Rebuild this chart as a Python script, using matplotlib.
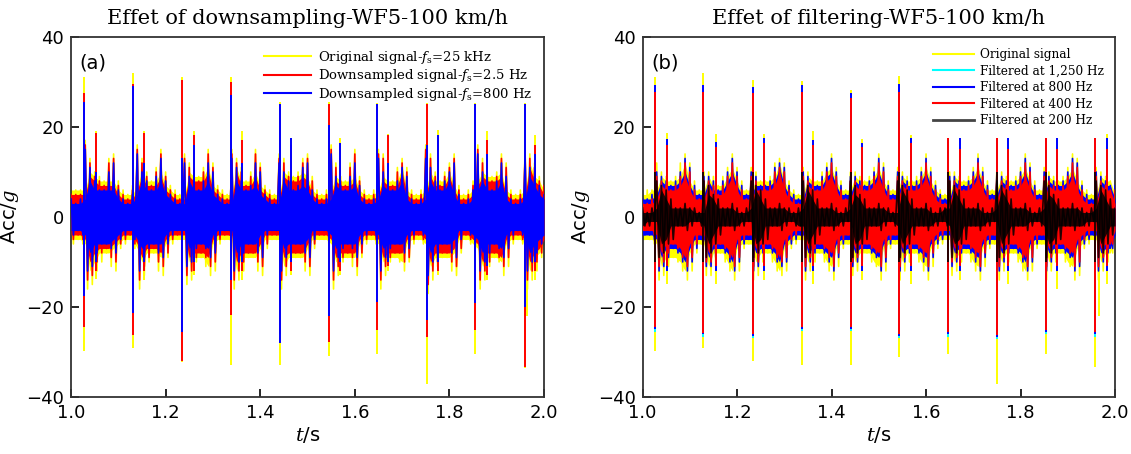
"""
Acceleration signal: effect of downsampling and filtering (WF5, 100 km/h)
"""
import numpy as np
import matplotlib
matplotlib.use('Agg')
import matplotlib.pyplot as plt
from matplotlib.lines import Line2D

nan = np.nan

# envelope of the signal, every 10 ms (upper / lower peak)
t_start = 1.0
t_step = 0.01

# ---- panel (a): downsampling ----
a_orig_hi = [6, 6, 6, 17, 13, 10, 9, 8, 13, 14,
             8, 6, 5, 7, 16, 13, 10, 8, 11, 15,
             10, 7, 6, 5, 14, 12, 10, 9, 11, 15,
             12, 7, 6, 5, 15, 13, 11, 8, 10, 15,
             12, 7, 6, 5, 14, 13, 10, 9, 10, 13,
             14, 9, 6, 5, 6, 16, 12, 9, 8, 12,
             15, 9, 6, 5, 6, 15, 14, 9, 8, 11,
             13, 11, 6, 5, 6, 16, 14, 10, 8, 10,
             12, 14, 7, 5, 6, 8, 16, 13, 10, 9,
             10, 14, 12, 6, 5, 6, 15, 14, 12, 9, 8]
a_orig_lo = [-6, -5, -6, -16, -15, -12, -10, -8, -11, -12,
             -7, -6, -5, -7, -16, -13, -10, -8, -12, -13,
             -9, -6, -5, -5, -15, -14, -10, -9, -11, -13,
             -12, -6, -5, -5, -16, -14, -12, -9, -9, -12,
             -13, -7, -5, -5, -16, -13, -11, -9, -9, -12,
             -13, -7, -5, -5, -6, -16, -13, -10, -9, -11,
             -13, -9, -6, -5, -6, -16, -13, -10, -9, -10,
             -12, -10, -6, -5, -6, -17, -14, -11, -9, -9,
             -12, -13, -8, -5, -6, -7, -16, -14, -11, -9,
             -10, -13, -11, -6, -5, -6, -16, -14, -12, -9, -8]
a_ds25_hi = [5, 5, 5, 16, 12, 9, 8, 7, 12, 13,
             7, 5, 4, 6, 15, 12, 9, 7, 10, 14,
             9, 6, 5, 4, 13, 11, 9, 8, 10, 14,
             11, 6, 5, 4, 14, 12, 10, 7, 9, 14,
             11, 6, 5, 4, 13, 12, 9, 8, 9, 12,
             13, 8, 5, 4, 5, 15, 11, 8, 7, 11,
             14, 8, 5, 4, 5, 14, 13, 8, 7, 10,
             12, 10, 5, 4, 5, 15, 13, 9, 7, 9,
             11, 13, 6, 4, 5, 7, 15, 12, 9, 8,
             9, 13, 11, 5, 4, 5, 14, 13, 11, 8, 7]
a_ds25_lo = [-5, -4, -5, -14, -13, -10, -8, -7, -9, -10,
             -6, -5, -4, -6, -14, -11, -9, -7, -10, -11,
             -8, -5, -4, -4, -13, -12, -9, -8, -9, -11,
             -10, -5, -4, -4, -14, -12, -10, -8, -8, -10,
             -11, -6, -4, -4, -14, -11, -9, -8, -8, -10,
             -11, -6, -4, -4, -5, -14, -11, -9, -8, -9,
             -11, -8, -5, -4, -5, -14, -11, -9, -8, -8,
             -10, -9, -5, -4, -5, -15, -12, -10, -8, -8,
             -10, -11, -7, -4, -5, -6, -14, -12, -10, -8,
             -9, -11, -9, -5, -4, -5, -14, -12, -10, -8, -7]
a_ds800_hi = [4, 3, 4, 15, 11, 8, 6, 6, 10, 12,
              6, 4, 3, 5, 14, 10, 8, 6, 9, 13,
              8, 5, 4, 3, 12, 9, 8, 6, 8, 12,
              10, 5, 4, 3, 13, 11, 8, 6, 7, 12,
              10, 5, 4, 3, 12, 10, 8, 6, 7, 11,
              12, 6, 4, 3, 4, 14, 9, 7, 6, 9,
              12, 7, 4, 3, 4, 13, 10, 7, 6, 8,
              11, 9, 4, 3, 4, 13, 11, 8, 6, 8,
              10, 12, 5, 3, 4, 6, 14, 10, 8, 6,
              8, 12, 9, 4, 3, 4, 13, 11, 9, 7, 5]
a_ds800_lo = [-4, -3, -4, -12, -11, -8, -6, -6, -7, -8,
              -5, -4, -3, -5, -12, -9, -7, -6, -8, -9,
              -6, -4, -3, -3, -11, -10, -7, -6, -7, -9,
              -8, -4, -3, -3, -12, -10, -8, -6, -6, -8,
              -9, -4, -3, -3, -12, -9, -7, -6, -6, -8,
              -9, -5, -3, -3, -4, -12, -9, -7, -6, -7,
              -9, -6, -4, -3, -4, -12, -9, -7, -6, -6,
              -8, -7, -4, -3, -4, -13, -10, -8, -6, -6,
              -8, -9, -5, -3, -4, -5, -12, -10, -8, -6,
              -7, -9, -7, -4, -3, -4, -12, -10, -8, -6, -5]

# single-sample impact peaks (wheel flat hits) in panel (a)
a_spike_t = [1.028, 1.052, 1.131, 1.155, 1.235, 1.259, 1.338, 1.362, 1.442, 1.465,
             1.545, 1.569, 1.647, 1.671, 1.752, 1.775, 1.855, 1.879, 1.959, 1.965, 1.982]
a_orig_sp_hi = [31.2, 19.0, 32.1, 19.0, 31.0, 19.0, 31.0, 19.0, 25.5, 17.5,
                25.5, 17.5, 25.3, 18.4, 25.3, 19.4, 25.3, 19.0, 25.3, nan, 18.2]
a_orig_sp_lo = [-29.7, -13.8, -29.2, -14.0, -32.3, -13.0, -33.0, -14.0, -33.0, -13.0,
                -31.0, -13.0, -30.4, -12.0, -37.1, -13.0, -30.4, -14.0, -33.6, -22.1, -14.0]
a_ds25_sp_hi = [27.5, 18.7, 29.5, 18.6, 30.4, 18.3, 30.1, 17.0, 25.0, 16.0,
                25.0, 16.4, 25.0, 18.2, 25.0, 17.0, 25.0, 17.0, 25.0, nan, 16.0]
a_ds25_sp_lo = [-24.4, -12.0, -26.2, -12.0, -32.0, -12.0, -21.8, -12.0, -26.0, -12.0,
                -27.7, -12.0, -25.1, -11.0, -26.6, -12.0, -25.1, -13.0, -33.3, nan, -12.0]
a_ds800_sp_hi = [25.6, 10.0, 29.0, 12.0, 13.0, 16.0, 27.0, 12.0, 25.0, 17.5,
                 20.4, 16.4, 25.0, 12.0, 16.0, 18.2, 25.0, 14.0, 25.0, nan, 14.0]
a_ds800_sp_lo = [-17.6, -10.0, -21.4, -10.0, -25.5, -10.0, -14.0, -10.0, -27.9, -10.0,
                 -22.1, -10.0, -18.8, -10.0, -22.9, -10.0, -19.2, -11.0, -19.9, nan, -10.0]

# ---- panel (b): filtering ----
b_orig_hi = [5, 6, 6, 12, 10, 9, 8, 9, 12, 14,
             12, 8, 6, 10, 10, 9, 7, 9, 11, 14,
             11, 8, 6, 11, 10, 8, 8, 9, 12, 13,
             12, 8, 6, 5, 11, 10, 9, 8, 10, 12,
             14, 11, 8, 6, 10, 10, 9, 8, 9, 11,
             14, 12, 8, 6, 11, 10, 9, 8, 9, 11,
             14, 11, 8, 6, 5, 10, 10, 9, 8, 9,
             11, 14, 11, 8, 6, 11, 10, 9, 8, 9,
             11, 14, 12, 8, 6, 11, 10, 9, 8, 9,
             11, 14, 13, 8, 6, 5, 11, 10, 9, 8, 8]
b_orig_lo = [-5, -5, -6, -14, -13, -11, -9, -10, -12, -14,
             -12, -8, -6, -13, -13, -11, -8, -10, -12, -14,
             -12, -7, -6, -14, -13, -10, -8, -10, -12, -13,
             -12, -7, -6, -5, -14, -12, -10, -8, -10, -12,
             -14, -11, -7, -6, -13, -12, -10, -8, -10, -11,
             -14, -12, -7, -6, -14, -12, -10, -8, -10, -12,
             -14, -11, -7, -6, -5, -13, -12, -10, -8, -10,
             -12, -14, -11, -7, -6, -14, -12, -10, -8, -10,
             -12, -14, -12, -7, -6, -14, -12, -10, -8, -10,
             -11, -14, -13, -7, -6, -5, -14, -12, -10, -8, -8]
b_f800_hi = [4, 4, 5, 10, 9, 8, 7, 8, 10, 13,
             11, 7, 5, 9, 9, 8, 6, 8, 10, 13,
             10, 7, 5, 10, 9, 7, 7, 8, 11, 12,
             11, 7, 5, 4, 10, 9, 8, 7, 9, 11,
             13, 10, 7, 5, 9, 9, 8, 7, 8, 10,
             13, 11, 7, 5, 10, 9, 8, 7, 8, 10,
             13, 10, 7, 5, 4, 9, 9, 8, 7, 8,
             10, 13, 10, 7, 5, 10, 9, 8, 7, 8,
             10, 13, 11, 7, 5, 10, 9, 8, 7, 8,
             10, 13, 12, 7, 5, 4, 10, 9, 8, 7, 7]
b_f800_lo = [-4, -4, -5, -12, -11, -9, -7, -8, -10, -12,
             -10, -7, -5, -11, -11, -9, -7, -8, -10, -12,
             -10, -6, -5, -12, -11, -8, -7, -8, -10, -11,
             -10, -6, -5, -4, -12, -10, -8, -7, -8, -10,
             -12, -9, -6, -5, -11, -10, -8, -7, -8, -9,
             -12, -10, -6, -5, -12, -10, -8, -7, -8, -10,
             -12, -9, -6, -5, -4, -11, -10, -8, -7, -8,
             -10, -12, -9, -6, -5, -12, -10, -8, -7, -8,
             -10, -12, -10, -6, -5, -12, -10, -8, -7, -8,
             -9, -12, -11, -6, -5, -4, -12, -10, -8, -7, -7]
b_f400_hi = [3, 3, 4, 9, 8, 7, 6, 7, 9, 12,
             10, 6, 4, 8, 8, 7, 5, 7, 9, 12,
             9, 6, 4, 9, 8, 6, 6, 7, 10, 11,
             10, 6, 4, 3, 9, 8, 7, 6, 8, 10,
             12, 9, 6, 4, 8, 8, 7, 6, 7, 9,
             12, 10, 6, 4, 9, 8, 7, 6, 7, 9,
             12, 9, 6, 4, 3, 8, 8, 7, 6, 7,
             9, 12, 9, 6, 4, 9, 8, 7, 6, 7,
             9, 12, 10, 6, 4, 9, 8, 7, 6, 7,
             9, 12, 11, 6, 4, 3, 9, 8, 7, 6, 6]
b_f400_lo = [-3, -3, -4, -11, -10, -8, -6, -7, -9, -11,
             -9, -6, -4, -10, -10, -8, -6, -7, -9, -11,
             -9, -5, -4, -11, -10, -7, -6, -7, -9, -10,
             -9, -5, -4, -3, -11, -9, -7, -6, -7, -9,
             -11, -8, -5, -4, -10, -9, -7, -6, -7, -8,
             -11, -9, -5, -4, -11, -9, -7, -6, -7, -9,
             -11, -8, -5, -4, -3, -10, -9, -7, -6, -7,
             -9, -11, -8, -5, -4, -11, -9, -7, -6, -7,
             -9, -11, -9, -5, -4, -11, -9, -7, -6, -7,
             -8, -11, -10, -5, -4, -3, -11, -9, -7, -6, -6]
b_f200_hi = [2, 1, 2, 8, 7, 6, 4, 2, 2, 3,
             2, 2, 1, 8, 7, 5, 4, 2, 2, 3,
             2, 1, 2, 8, 7, 6, 4, 2, 2, 3,
             2, 2, 1, 2, 8, 7, 6, 4, 2, 2,
             3, 2, 1, 2, 8, 7, 5, 4, 2, 2,
             3, 2, 2, 1, 8, 7, 6, 4, 2, 2,
             3, 2, 1, 2, 2, 8, 7, 6, 4, 2,
             2, 3, 2, 1, 2, 8, 7, 6, 4, 2,
             2, 3, 2, 1, 2, 8, 7, 5, 4, 2,
             2, 3, 2, 2, 1, 2, 8, 7, 6, 4, 2]
b_f200_lo = [-2, -2, -1, -9, -8, -6, -5, -2, -2, -3,
             -2, -1, -2, -9, -8, -6, -4, -2, -2, -3,
             -2, -2, -1, -9, -8, -6, -5, -2, -2, -3,
             -2, -1, -2, -2, -9, -8, -6, -4, -2, -2,
             -3, -2, -2, -1, -9, -8, -6, -5, -2, -2,
             -3, -2, -1, -2, -9, -8, -6, -4, -2, -2,
             -3, -2, -2, -1, -2, -9, -8, -6, -5, -2,
             -2, -3, -2, -2, -1, -9, -8, -6, -4, -2,
             -2, -3, -2, -1, -2, -9, -8, -6, -5, -2,
             -2, -3, -2, -2, -2, -1, -9, -8, -6, -4, -2]

b_spike_t = [1.0265, 1.051, 1.129, 1.155, 1.233, 1.258, 1.337, 1.361, 1.441, 1.464,
             1.5435, 1.568, 1.647, 1.672, 1.750, 1.774, 1.854, 1.878, 1.958, 1.965, 1.982]
b_orig_sp_hi = [31.0, 18.6, 32.1, 18.5, 30.4, 18.5, 30.2, 19.0, 28.2, 17.3,
                31.3, 18.3, 17.5, 17.5, 17.5, 17.5, 17.5, 17.5, 17.5, nan, 18.5]
b_orig_sp_lo = [-29.7, -15.0, -29.2, -15.0, -31.9, -14.0, -33.0, -15.0, -32.9, -14.0,
                -31.2, -15.0, -30.4, -14.0, -37.1, -15.0, -30.4, -16.0, -33.3, -22.1, -15.0]
b_f1250_sp_hi = [29.3, 17.4, 29.3, 16.6, 28.8, 17.6, 29.3, 17.0, 27.5, 16.5,
                 29.6, 17.6, 17.5, 17.5, 17.5, 17.5, 17.5, 17.5, 17.5, nan, 17.5]
b_f1250_sp_lo = [-25.5, -12.0, -26.6, -12.0, -27.0, -12.0, -25.3, -12.0, -25.3, -12.0,
                 -27.0, -12.0, -26.6, -12.0, -27.2, -12.0, -26.1, -12.0, -26.6, nan, -12.0]
b_f800_sp_hi = [29.3, 17.4, 29.3, 16.6, 28.8, 17.6, 29.3, 17.0, 27.5, 16.5,
                29.6, 17.6, 17.5, 17.5, 17.5, 17.5, 17.5, 17.5, 17.5, nan, 17.5]
b_f800_sp_lo = [-24.8, -12.0, -26.0, -12.0, -26.4, -12.0, -24.8, -12.0, -24.8, -12.0,
                -26.4, -12.0, -26.0, -12.0, -26.7, -12.0, -25.5, -12.0, -26.0, nan, -12.0]
b_f400_sp_hi = [27.8, 16.0, 27.8, 15.5, 27.5, 16.5, 27.8, 16.0, 26.4, 15.5,
                27.8, 16.5, 17.5, 15.0, 17.5, 15.0, 17.5, 15.0, 17.5, nan, 15.0]
b_f400_sp_lo = [-24.4, -11.0, -25.8, -11.0, -26.0, -11.0, -24.4, -11.0, -24.4, -11.0,
                -26.0, -11.0, -25.6, -11.0, -26.2, -11.0, -25.1, -11.0, -25.6, nan, -11.0]
b_f200_sp_hi = [10.0, nan, 10.0, nan, 10.0, nan, 10.0, nan, 10.0, nan,
                10.0, nan, 10.0, nan, 10.0, nan, 10.0, nan, 10.0, nan, nan]
b_f200_sp_lo = [-10.0, nan, -10.0, nan, -10.0, nan, -10.0, nan, -10.0, nan,
                -10.0, nan, -10.0, nan, -10.0, nan, -10.0, nan, -10.0, nan, nan]

YELLOW = '#FFFF00'
RED = '#FF0000'
BLUE = '#0000FF'
CYAN = '#00FFFF'
BLACK = '#000000'

plt.rcParams['mathtext.fontset'] = 'dejavuserif'
SERIF = 'DejaVu Serif'


def draw_series(ax, hi, lo, sp_t, sp_hi, sp_lo, color, z, alpha=1.0):
    """Dense signal: solid core (local floor of the peaks), jagged peaks, impact spikes"""
    if hi is not None:
        hi = np.asarray(hi, dtype=float)
        lo = np.asarray(lo, dtype=float)
        t = t_start + t_step * np.arange(len(hi))
        # solid part of the band: smallest peak among neighbouring samples
        core_hi = np.minimum(np.minimum(hi, np.roll(hi, 1)), np.roll(hi, -1))
        core_lo = np.maximum(np.maximum(lo, np.roll(lo, 1)), np.roll(lo, -1))
        ax.fill_between(t, core_lo, core_hi, color=color, lw=0, zorder=z, alpha=alpha)
        tz = np.column_stack([t, t + t_step / 2]).ravel()
        yz = np.column_stack([hi, lo]).ravel()
        ax.plot(tz, yz, color=color, lw=1.2, zorder=z, alpha=alpha)
    sp_t = np.asarray(sp_t)
    sp_hi = np.asarray(sp_hi, dtype=float)
    sp_lo = np.asarray(sp_lo, dtype=float)
    m = ~np.isnan(sp_hi)
    ax.vlines(sp_t[m], 0, sp_hi[m], color=color, lw=1.4, zorder=z, alpha=alpha)
    m = ~np.isnan(sp_lo)
    ax.vlines(sp_t[m], sp_lo[m], 0, color=color, lw=1.4, zorder=z, alpha=alpha)


def style_axes(ax, title, tag):
    ax.set_xlim(1.0, 2.0)
    ax.set_ylim(-40, 40)
    ax.set_xticks(np.arange(1.0, 2.01, 0.2))
    ax.set_yticks([-40, -20, 0, 20, 40])
    ax.xaxis.set_major_formatter(plt.FormatStrFormatter('%.1f'))
    ax.tick_params(direction='in', length=6, width=1.2, labelsize=13,
                   top=False, right=False, pad=5)
    for s in ax.spines.values():
        s.set_linewidth(1.3)
        s.set_color('#333333')
    ax.set_title(title, fontsize=15, family=SERIF, pad=9)
    ax.set_xlabel('$t$/s', fontsize=14, labelpad=2)
    ax.set_ylabel('Acc/$g$', fontsize=14, labelpad=4)
    ax.text(0.018, 0.955, tag, transform=ax.transAxes, fontsize=14,
            va='top', ha='left')


fig = plt.figure(figsize=(11.31, 4.54), dpi=100)
ax1 = fig.add_axes([0.0628, 0.1256, 0.4182, 0.793])
ax2 = fig.add_axes([0.5681, 0.1256, 0.4178, 0.793])

# (a) downsampling
draw_series(ax1, a_orig_hi, a_orig_lo, a_spike_t, a_orig_sp_hi, a_orig_sp_lo, YELLOW, 2)
draw_series(ax1, a_ds25_hi, a_ds25_lo, a_spike_t, a_ds25_sp_hi, a_ds25_sp_lo, RED, 3)
draw_series(ax1, a_ds800_hi, a_ds800_lo, a_spike_t, a_ds800_sp_hi, a_ds800_sp_lo, BLUE, 4)
style_axes(ax1, 'Effet of downsampling-WF5-100 km/h', '(a)')
handles_a = [Line2D([0], [0], color=YELLOW, lw=1.5),
             Line2D([0], [0], color=RED, lw=1.5),
             Line2D([0], [0], color=BLUE, lw=1.5)]
labels_a = ['Original signal-$f_\\mathrm{s}$=25 kHz',
            'Downsampled signal-$f_\\mathrm{s}$=2.5 Hz',
            'Downsampled signal-$f_\\mathrm{s}$=800 Hz']
ax1.legend(handles_a, labels_a, loc='upper right', frameon=False,
           prop={'family': SERIF, 'size': 9.5}, handlelength=3.6,
           labelspacing=0.12, borderaxespad=0.5, handletextpad=0.5)

# (b) filtering
draw_series(ax2, b_orig_hi, b_orig_lo, b_spike_t, b_orig_sp_hi, b_orig_sp_lo, YELLOW, 2)
draw_series(ax2, None, None, b_spike_t, b_f1250_sp_hi, b_f1250_sp_lo, CYAN, 3)
draw_series(ax2, b_f800_hi, b_f800_lo, b_spike_t, b_f800_sp_hi, b_f800_sp_lo, BLUE, 4)
draw_series(ax2, b_f400_hi, b_f400_lo, b_spike_t, b_f400_sp_hi, b_f400_sp_lo, RED, 5)
draw_series(ax2, b_f200_hi, b_f200_lo, b_spike_t, b_f200_sp_hi, b_f200_sp_lo, BLACK, 6, alpha=0.85)
style_axes(ax2, 'Effet of filtering-WF5-100 km/h', '(b)')
handles_b = [Line2D([0], [0], color=YELLOW, lw=1.5),
             Line2D([0], [0], color=CYAN, lw=1.5),
             Line2D([0], [0], color=BLUE, lw=1.5),
             Line2D([0], [0], color=RED, lw=1.5),
             Line2D([0], [0], color='#444444', lw=2)]
labels_b = ['Original signal', 'Filtered at 1,250 Hz', 'Filtered at 800 Hz',
            'Filtered at 400 Hz', 'Filtered at 200 Hz']
ax2.legend(handles_b, labels_b, loc='upper right', frameon=False,
           prop={'family': SERIF, 'size': 8.7}, handlelength=3.4,
           labelspacing=0.3, borderaxespad=0.5, handletextpad=0.5)

fig.savefig('out.png', dpi=100)
